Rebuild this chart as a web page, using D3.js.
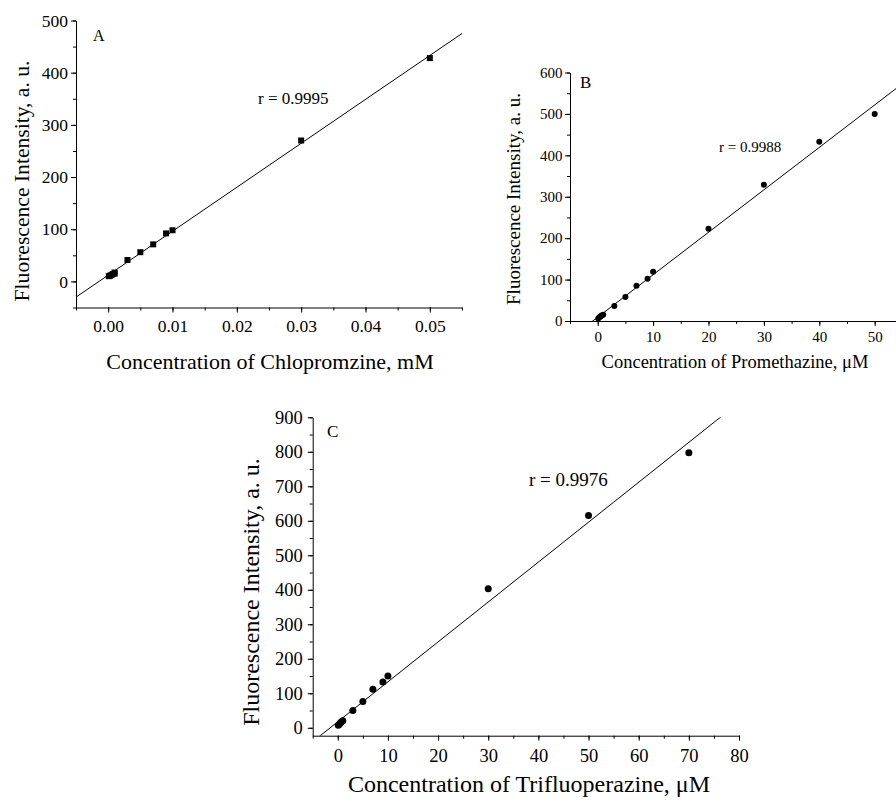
<!DOCTYPE html>
<html>
<head>
<meta charset="utf-8">
<script src="https://cdn.jsdelivr.net/npm/d3@7"></script>
<style>
  body { margin: 0; background: #fff; }
  svg, svg text { font-family: "Liberation Serif", "Times New Roman", serif; }
</style>
</head>
<body>
<script>
// panel A: Chlorpromazine (mM)
var concA = [0.0001, 0.0003, 0.0005, 0.0007, 0.001, 0.001, 0.003, 0.005, 0.007, 0.009, 0.01, 0.03, 0.05];
var fluoA = [10, 11, 12, 14, 15, 17, 41, 56, 71, 92, 98, 270, 428];
var fitA = [12, 8420]; // intercept, slope

// panel B: Promethazine (uM)
var concB = [0.1, 0.3, 0.5, 0.7, 1, 3, 5, 7, 9, 10, 20, 30, 40, 50];
var fluoB = [6, 9, 11, 13, 15, 36, 58, 85, 102, 119, 223, 329, 433, 500];
var fitB = [9.2, 10.25];

// panel C: Trifluoperazine (uM)
var concC = [0.1, 0.3, 0.5, 0.7, 1, 3, 5, 7, 9, 10, 30, 50, 70];
var fluoC = [7, 10, 14, 17, 20, 50, 76, 112, 133, 150, 403, 615, 797];
var fitC = [17.5, 11.57];

var ticksXA = [0, 0.01, 0.02, 0.03, 0.04, 0.05];
var ticksYA = [0, 100, 200, 300, 400, 500];
var ticksXB = [0, 10, 20, 30, 40, 50];
var ticksYB = [0, 100, 200, 300, 400, 500, 600];
var ticksXC = [0, 10, 20, 30, 40, 50, 60, 70, 80];
var ticksYC = [0, 100, 200, 300, 400, 500, 600, 700, 800, 900];

var svg = d3.select("body").append("svg")
    .attr("width", 896)
    .attr("height", 800);

function drawPanel(p){
  var x = d3.scaleLinear().domain(p.xDom).range([p.left, p.right]);
  var y = d3.scaleLinear().domain(p.yDom).range([p.bottom, p.top]);
  var g = svg.append("g");

  //minor ticks first, then major with labels
  var xMinor = d3.range(p.xDom[0], p.xDom[1] + p.xStep / 100, p.xStep);
  var yMinor = d3.range(Math.ceil(p.yDom[0] / p.yStep) * p.yStep, p.yDom[1] + p.yStep / 100, p.yStep);

  g.append("g")
    .attr("transform", "translate(0," + p.bottom + ")")
    .call(d3.axisBottom(x).tickValues(xMinor).tickSize(3).tickFormat(""))
    .select(".domain").remove();
  g.append("g")
    .attr("transform", "translate(" + p.left + ",0)")
    .call(d3.axisLeft(y).tickValues(yMinor).tickSize(3).tickFormat(""))
    .select(".domain").remove();

  var xa = g.append("g")
    .attr("transform", "translate(0," + p.bottom + ")")
    .call(d3.axisBottom(x).tickValues(p.xTicks).tickSize(5).tickSizeOuter(0).tickPadding(p.xPad).tickFormat(p.xFmt));
  var ya = g.append("g")
    .attr("transform", "translate(" + p.left + ",0)")
    .call(d3.axisLeft(y).tickValues(p.yTicks).tickSize(5).tickSizeOuter(0).tickPadding(p.yPad));
  [xa, ya].forEach(function(a){
    a.attr("font-family", null);
    a.selectAll("text").style("font-family", "'Liberation Serif', serif").attr("font-size", p.tickFont).attr("fill", "#000");
    a.select(".domain").attr("stroke", "#000");
  });
  g.selectAll("line").attr("stroke", "#000");

  //clip for fit line
  var clipId = "clip" + p.name;
  svg.append("clipPath").attr("id", clipId)
    .append("rect")
    .attr("x", p.left).attr("y", p.top)
    .attr("width", p.right - p.left).attr("height", p.bottom - p.top);

  g.append("line")
    .attr("clip-path", "url(#" + clipId + ")")
    .attr("x1", x(p.xDom[0])).attr("y1", y(p.fit[0] + p.fit[1] * p.xDom[0]))
    .attr("x2", x(p.xDom[1])).attr("y2", y(p.fit[0] + p.fit[1] * p.xDom[1]))
    .attr("stroke", "#000").attr("stroke-width", 1);

  var pts = p.xs.map(function(d, i){ return [d, p.ys[i]]; });
  if (p.square){
    g.selectAll(".pt").data(pts).enter().append("rect")
      .attr("x", function(d){ return x(d[0]) - p.size; })
      .attr("y", function(d){ return y(d[1]) - p.size; })
      .attr("width", p.size * 2).attr("height", p.size * 2)
      .attr("fill", "#000");
  } else {
    g.selectAll(".pt").data(pts).enter().append("circle")
      .attr("cx", function(d){ return x(d[0]); })
      .attr("cy", function(d){ return y(d[1]); })
      .attr("r", p.size)
      .attr("fill", "#000");
  }

  g.append("text")
    .attr("x", p.letterPos[0]).attr("y", p.letterPos[1])
    .attr("font-size", p.letterFont)
    .text(p.name);
  g.append("text")
    .attr("x", p.rPos[0]).attr("y", p.rPos[1])
    .attr("font-size", p.rFont)
    .text(p.rText);

  g.append("text")
    .attr("transform", "translate(" + p.yLabPos[0] + "," + p.yLabPos[1] + ") rotate(-90)")
    .attr("text-anchor", "middle")
    .attr("font-size", p.yLabFont)
    .text("Fluorescence Intensity, a. u.");
  g.append("text")
    .attr("x", p.xLabPos[0]).attr("y", p.xLabPos[1])
    .attr("text-anchor", "middle")
    .attr("font-size", p.xLabFont)
    .text(p.xLabel);
}

drawPanel({
  name: "A", xs: concA, ys: fluoA, fit: fitA, square: true, size: 3,
  xDom: [-0.005, 0.055], yDom: [-50, 500], xStep: 0.005, yStep: 50,
  xTicks: ticksXA, yTicks: ticksYA, xFmt: d3.format(".2f"),
  left: 76, right: 462, top: 20.5, bottom: 307.5,
  tickFont: 17.5, xPad: 7, yPad: 3,
  letterFont: 16, rFont: 17, yLabFont: 21.6, xLabFont: 22,
  letterPos: [93, 41], rPos: [258, 104], rText: "r = 0.9995",
  yLabPos: [29, 181], xLabPos: [270, 369],
  xLabel: "Concentration of Chlopromzine, mM"
});

drawPanel({
  name: "B", xs: concB, ys: fluoB, fit: fitB, square: false, size: 3,
  xDom: [-5, 55], yDom: [0, 600], xStep: 5, yStep: 50,
  xTicks: ticksXB, yTicks: ticksYB, xFmt: d3.format("d"),
  left: 570, right: 902.4, top: 72.5, bottom: 321,
  tickFont: 15, xPad: 5.5, yPad: 2.5,
  letterFont: 17, rFont: 15, yLabFont: 19, xLabFont: 18.5,
  letterPos: [580, 88], rPos: [719, 152], rText: "r = 0.9988",
  yLabPos: [520, 199], xLabPos: [735, 368],
  xLabel: "Concentration of Promethazine, \u03bcM"
});

drawPanel({
  name: "C", xs: concC, ys: fluoC, fit: fitC, square: false, size: 3.5,
  xDom: [-5, 80], yDom: [-23, 900], xStep: 5, yStep: 50,
  xTicks: ticksXC, yTicks: ticksYC, xFmt: d3.format("d"),
  left: 312.7, right: 739, top: 417.3, bottom: 735.7,
  tickFont: 18.5, xPad: 8, yPad: 5,
  letterFont: 17, rFont: 19, yLabFont: 24, xLabFont: 24,
  letterPos: [327, 437], rPos: [529, 486], rText: "r = 0.9976",
  yLabPos: [259, 592], xLabPos: [529, 792],
  xLabel: "Concentration of Trifluoperazine, \u03bcM"
});
</script>
</body>
</html>
